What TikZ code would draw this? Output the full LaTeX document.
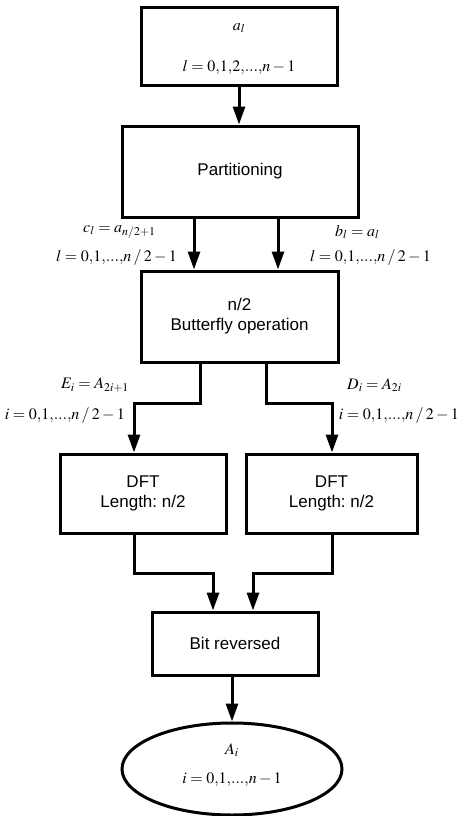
\documentclass[tikz,border=0pt]{standalone}
\usepackage{mathptmx}
\usepackage[no-math]{fontspec}
\setmainfont{Liberation Sans}
\usetikzlibrary{arrows.meta,shapes.geometric}
\frenchspacing
\newcommand{\cm}{\mathord{,}}
\newcommand{\myslash}{\mathbin{/}}
\begin{document}
\begin{tikzpicture}[x=1pt,y=-1pt,
  box/.style={draw, line width=3pt, inner sep=0pt, align=center, font=\fontsize{17}{20}\selectfont},
  conn/.style={line width=3pt, -{Triangle[length=18pt,width=12pt]}},
  lbl/.style={inner sep=0pt, font=\fontsize{16}{19}\selectfont}]
\useasboundingbox (0,0) rectangle (463,816);
\node[box, minimum width=196pt, minimum height=77pt] (b1) at (239,46.5) {};
\node[lbl] (b1a) at (239,28) {$a_l$};
\node[lbl] (b1b) at (239,68) {$l=0\cm1\cm2\cm...\cm n-1$};
\node[box, minimum width=236pt, minimum height=91pt] (b2) at (240,171.5) {Partitioning};
\node[box, minimum width=197pt, minimum height=91pt] (b3) at (239.5,316.5) {n/2\\Butterfly operation};
\node[box, minimum width=166pt, minimum height=79pt] (d1) at (143,493.5) {DFT\\Length: n/2};
\node[box, minimum width=171pt, minimum height=79pt] (d2) at (331.5,493.5) {DFT\\Length: n/2};
\node[box, minimum width=166pt, minimum height=63pt] (br) at (235,643.5) {Bit reversed};
\node[box, ellipse, minimum width=220pt, minimum height=92pt] (el) at (232,769) {};
\node[lbl] (ela) at (232,750) {$A_i$};
\node[lbl] (elb) at (232,780) {$i=0\cm1\cm...\cm n-1$};

\node[lbl, anchor=west] (lc) at (83,232) {$c_l=a_{n\myslash2+1}$};
\node[lbl, anchor=east] (lcl) at (177,258) {$l=0\cm1\cm...\cm n\myslash2-1$};
\node[lbl, anchor=west] (lb) at (335,232) {$b_l=a_l$};
\node[lbl, anchor=east] (lbl2) at (431,258) {$l=0\cm1\cm...\cm n\myslash2-1$};
\node[lbl, anchor=west] (le) at (61,385) {$E_i=A_{2i+1}$};
\node[lbl, anchor=east] (lei) at (125,416) {$i=0\cm1\cm...\cm n\myslash2-1$};
\node[lbl, anchor=west] (ld) at (347,385) {$D_i=A_{2i}$};
\node[lbl, anchor=east] (ldi) at (459,416) {$i=0\cm1\cm...\cm n\myslash2-1$};

\draw[conn] (b1.south) -- (b1.south |- b2.north);
\draw[conn] ([xshift=-46pt]b2.south) -- ([xshift=-46pt]b2.south |- b3.north);
\draw[conn] ([xshift=38pt]b2.south) -- ([xshift=38pt]b2.south |- b3.north);
\draw[conn] ([xshift=-39.5pt]b3.south) -- ++(0,40) -| ([xshift=-9pt]d1.north);
\draw[conn] ([xshift=26.5pt]b3.south) -- ++(0,40) -| ([xshift=0.5pt]d2.north);
\draw[conn] ([xshift=-9pt]d1.south) -- ++(0,39) -| ([xshift=-22pt]br.north);
\draw[conn] ([xshift=0.5pt]d2.south) -- ++(0,39) -| ([xshift=18pt]br.north);
\draw[conn] (br.south -| el.north) -- (el.north);
\end{tikzpicture}
\end{document}
